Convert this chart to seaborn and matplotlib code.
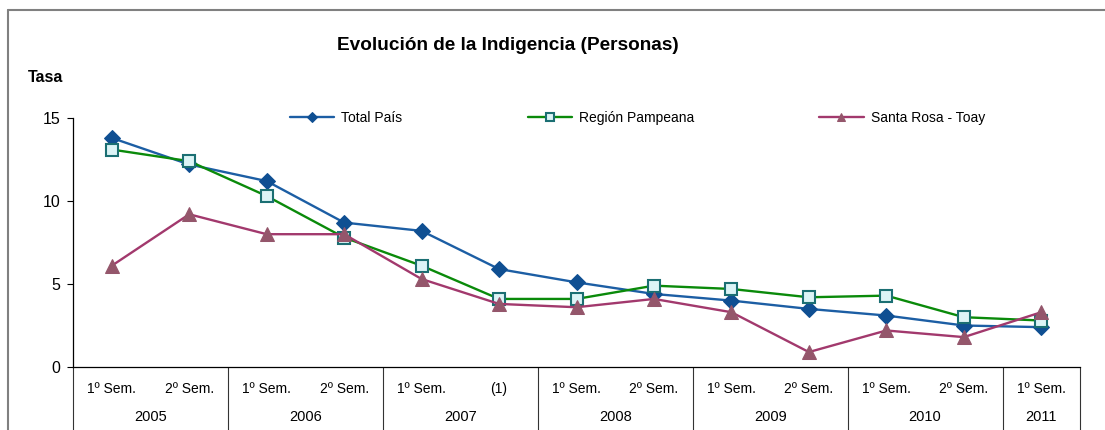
import numpy as np
import pandas as pd
import seaborn as sns
import matplotlib
import matplotlib.pyplot as plt
from matplotlib.lines import Line2D
from matplotlib.transforms import blended_transform_factory

matplotlib.use('Agg')

# datos
periodos = ["1º Sem.", "2º Sem.", "1º Sem.", "2º Sem.", "1º Sem.", "(1)",
            "1º Sem.", "2º Sem.", "1º Sem.", "2º Sem.", "1º Sem.", "2º Sem.", "1º Sem."]
anios = ["2005", "2006", "2007", "2008", "2009", "2010", "2011"]
sem_por_anio = [2, 2, 2, 2, 2, 2, 1]
total_pais = [13.8, 12.2, 11.2, 8.7, 8.2, 5.9, 5.1, 4.4, 4.0, 3.5, 3.1, 2.5, 2.4]
region_pampeana = [13.1, 12.4, 10.3, 7.8, 6.1, 4.1, 4.1, 4.9, 4.7, 4.2, 4.3, 3.0, 2.8]
santa_rosa = [6.1, 9.2, 8.0, 8.0, 5.3, 3.8, 3.6, 4.1, 3.3, 0.9, 2.2, 1.8, 3.3]

sns.set_style("white")
plt.rcParams['font.family'] = ['Liberation Sans', 'DejaVu Sans']
plt.rcParams['text.color'] = 'black'
plt.rcParams['xtick.color'] = 'black'
plt.rcParams['ytick.color'] = 'black'

W, H = 1105, 430
fig = plt.figure(figsize=(W / 100, H / 100), dpi=100)
ax = fig.add_axes([73 / W, 63 / H, 1007 / W, 249 / H])

x = np.arange(len(periodos))
df = pd.DataFrame({'x': x, 'total': total_pais, 'pampa': region_pampeana, 'sr': santa_rosa})

sns.lineplot(data=df, x='x', y='total', ax=ax, color='#1c5ea4', linewidth=1.7,
             marker='D', markersize=8, markerfacecolor='#0f4f92', markeredgecolor='#0f4f92',
             label='Total País')
sns.lineplot(data=df, x='x', y='pampa', ax=ax, color='#0a8a0a', linewidth=1.7,
             marker='s', markersize=8.5, markerfacecolor='#dcf4f6', markeredgecolor='#1b6f73',
             markeredgewidth=1.5, label='Región Pampeana')
sns.lineplot(data=df, x='x', y='sr', ax=ax, color='#a2396d', linewidth=1.7,
             marker='^', markersize=10, markerfacecolor='#94566b', markeredgecolor='#94566b',
             label='Santa Rosa - Toay')

handles, labels = ax.get_legend_handles_labels()
ax.get_legend().remove()

ax.set_xlim(-0.5, len(periodos) - 0.5)
ax.set_ylim(0, 15)
ax.set_yticks([0, 5, 10, 15])
ax.set_xticks(x)
ax.set_xticklabels(periodos, fontsize=10)
ax.set_xlabel('')
ax.set_ylabel('')
ax.tick_params(axis='x', length=0, pad=11)
ax.tick_params(axis='y', length=4, width=0.8, color='black', pad=5, labelsize=11.5, direction='out', left=True)
for s in ['top', 'right']:
    ax.spines[s].set_visible(False)
for s in ['left', 'bottom']:
    ax.spines[s].set_color('black')
    ax.spines[s].set_linewidth(0.9)

# tabla de categorías debajo del eje
trans = blended_transform_factory(ax.transData, ax.transAxes)
bordes = np.concatenate([[0], np.cumsum(sem_por_anio)]) - 0.5
for b in bordes:
    ax.plot([b, b], [0, -0.26], transform=trans, color='#333333', linewidth=0.8, clip_on=False)
for i, anio in enumerate(anios):
    centro = (bordes[i] + bordes[i + 1]) / 2
    ax.text(centro, -0.2, anio, transform=trans, ha='center', va='center', fontsize=10.5)

# textos
fig.text(508 / W, 1 - 45 / H, 'Evolución de la Indigencia (Personas)', ha='center', va='center',
         fontsize=13.7, fontweight='bold')
fig.text(28 / W, 1 - 78 / H, 'Tasa', ha='left', va='center', fontsize=11.5, fontweight='bold')

fig.legend(handles, labels, loc='center left', bbox_to_anchor=(290 / W, 1 - 118 / H), ncol=3,
           frameon=False, borderpad=0, borderaxespad=0, handlelength=3.2, handletextpad=0.5,
           columnspacing=9, fontsize=10, markerscale=0.6)

# marco exterior
fig.add_artist(Line2D([8 / W, 1], [1 - 10 / H, 1 - 10 / H], color='#808080', linewidth=1.5))
fig.add_artist(Line2D([8 / W, 8 / W], [0, 1 - 10 / H], color='#808080', linewidth=1.5))

fig.savefig('out.png', dpi=100)
